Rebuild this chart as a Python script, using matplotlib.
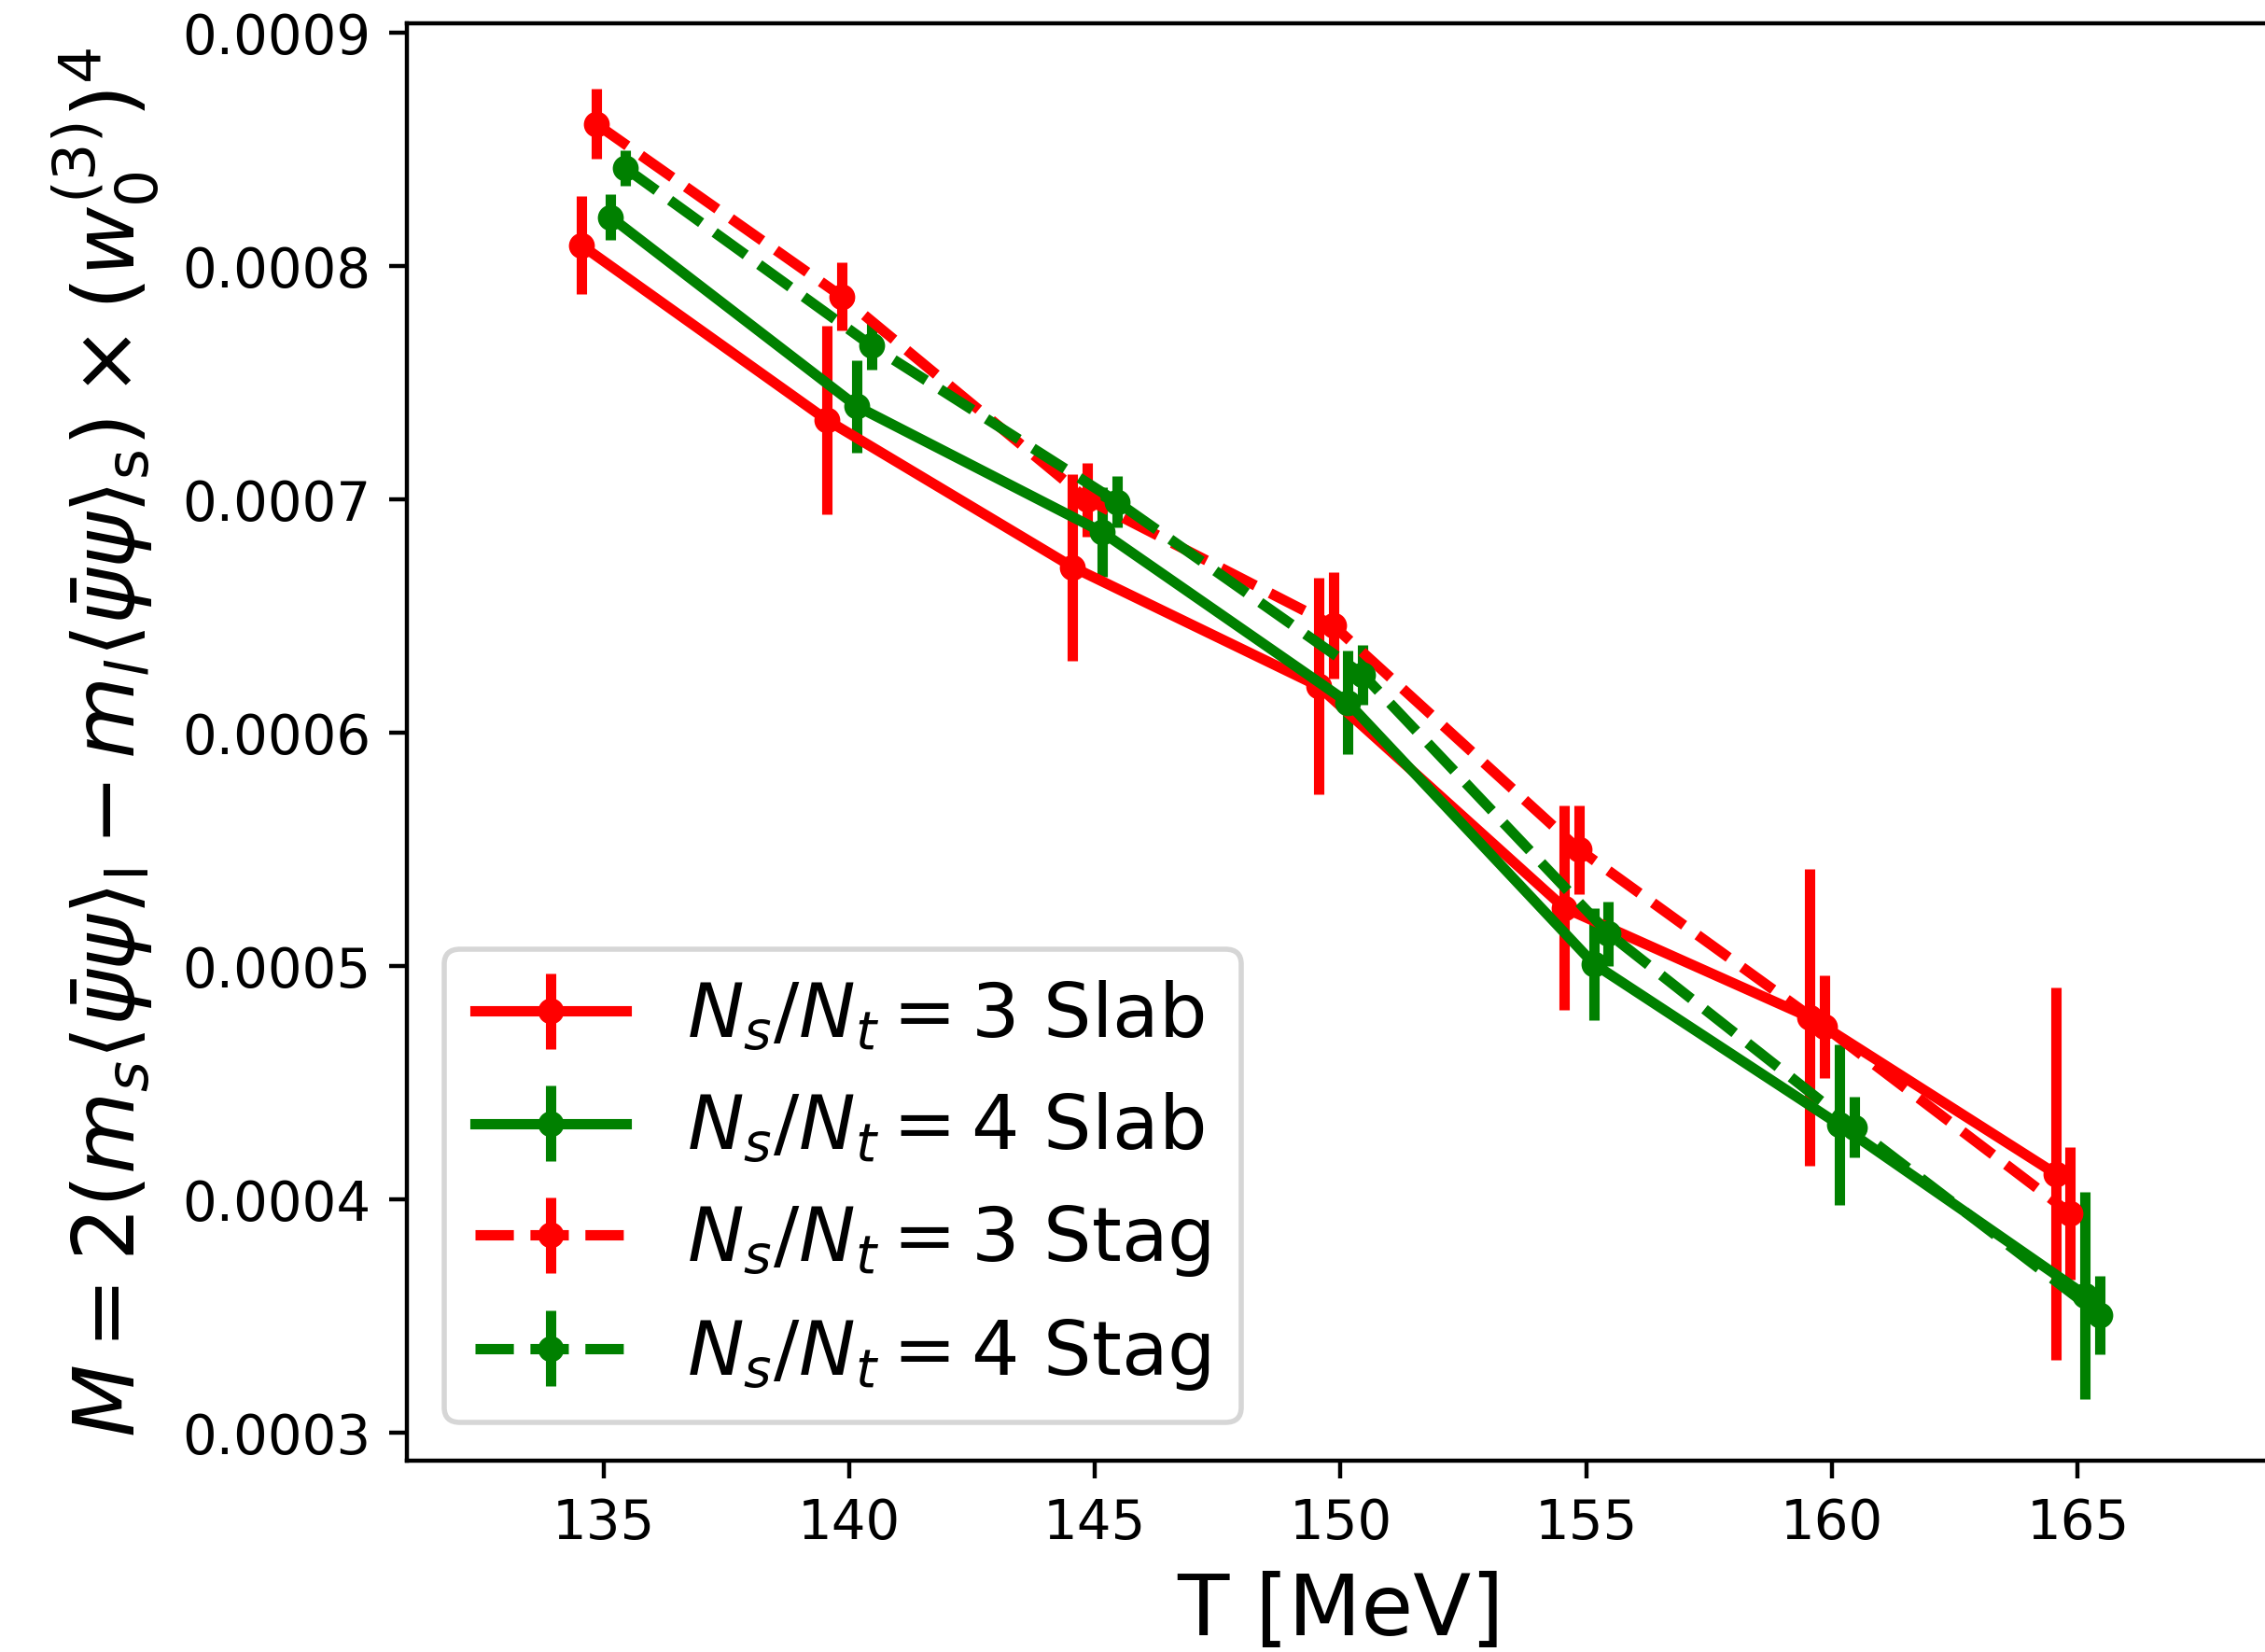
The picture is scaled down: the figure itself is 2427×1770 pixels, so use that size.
import matplotlib
matplotlib.use("Agg")
import matplotlib.pyplot as plt
import numpy as np

# temperatures [MeV] and small horizontal offsets so the bars don't overlap
T = np.array([135, 140, 145, 150, 155, 160, 165])

slab3 = [0.000809, 0.000734, 0.000671, 0.000620, 0.000525, 0.000478, 0.000411]
slab3_err = [0.0000211, 0.0000403, 0.0000400, 0.0000463, 0.0000437, 0.0000637, 0.0000797]

slab4 = [0.000821, 0.000740, 0.000686, 0.000613, 0.000501, 0.000432, 0.000359]
slab4_err = [0.0000099, 0.0000198, 0.0000193, 0.0000223, 0.0000240, 0.0000344, 0.0000444]

stag3 = [0.000861, 0.000787, 0.000700, 0.000646, 0.000550, 0.000474, 0.000394]
stag3_err = [0.0000149, 0.0000147, 0.0000158, 0.0000227, 0.0000190, 0.0000221, 0.0000283]

stag4 = [0.000842, 0.000766, 0.000699, 0.000625, 0.000514, 0.000431, 0.0003505]
stag4_err = [0.0000075, 0.0000102, 0.0000109, 0.0000128, 0.0000138, 0.0000130, 0.0000167]

dpi = 400
fig = plt.figure(figsize=(2427 / dpi, 1770 / dpi), dpi=dpi)
ax = fig.add_axes([0.1796, 0.1158, 0.8245, 0.870])

ax.errorbar(T - 0.45, slab3, yerr=slab3_err, fmt='-o', color='red', lw=2, ms=4,
            label=r'$N_s/N_t = 3$ Slab')
ax.errorbar(T + 0.15, slab4, yerr=slab4_err, fmt='-o', color='green', lw=2, ms=4,
            label=r'$N_s/N_t = 4$ Slab')
ax.errorbar(T - 0.15, stag3, yerr=stag3_err, fmt='--o', color='red', lw=2, ms=4,
            label=r'$N_s/N_t = 3$ Stag')
ax.errorbar(T + 0.45, stag4, yerr=stag4_err, fmt='--o', color='green', lw=2, ms=4,
            label=r'$N_s/N_t = 4$ Stag')

ax.set_xlim(131, 169)
ax.set_ylim(0.000288, 0.000904)
ax.set_xticks([135, 140, 145, 150, 155, 160, 165])
ax.set_yticks([0.0003, 0.0004, 0.0005, 0.0006, 0.0007, 0.0008, 0.0009])
ax.tick_params(labelsize=10.4)

ax.set_xlabel('T [MeV]', fontsize=16.3)
ax.set_ylabel(r'$M = 2(m_s\langle\bar{\psi}\psi\rangle_\mathrm{l} - m_l\langle\bar{\psi}\psi\rangle_\mathrm{s})'
              r' \times (w_0^{(3)})^4$', fontsize=16.3)
ax.legend(loc='lower left', fontsize=14.6)

fig.savefig('out.png', dpi=dpi)
